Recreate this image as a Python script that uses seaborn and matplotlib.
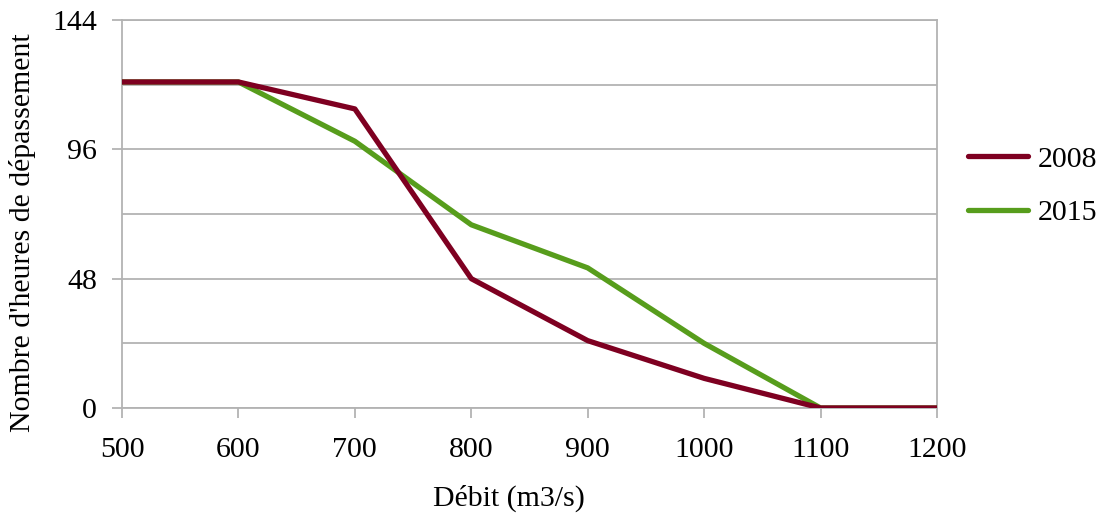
import matplotlib
matplotlib.use("Agg")
import matplotlib.pyplot as plt
import seaborn as sns
import pandas as pd

debit = [500, 600, 700, 800, 900, 1000, 1100, 1200]
heures_2008 = [121, 121, 111, 48, 25, 11, 0, 0]
heures_2015 = [121, 121, 99, 68, 52, 24, 0, 0]
series = ["2008", "2015"]
colors = ["#7e0021", "#579d1c"]

df = pd.concat([
    pd.DataFrame({"debit": debit, "heures": heures_2008, "annee": series[0]}),
    pd.DataFrame({"debit": debit, "heures": heures_2015, "annee": series[1]}),
])

sns.set_theme(style="white")
plt.rcParams["font.family"] = ["Liberation Serif", "DejaVu Serif"]
plt.rcParams["text.color"] = "black"
plt.rcParams["axes.labelcolor"] = "black"

FS = 21.5
fig = plt.figure(figsize=(11.02, 5.13), dpi=100)
ax = fig.add_axes([122/1102, 1-408/513, (937-122)/1102, (408-20)/513])

for name, col, z in [("2015", colors[1], 3), ("2008", colors[0], 4)]:
    sns.lineplot(data=df[df["annee"] == name], x="debit", y="heures", color=col,
                 linewidth=3.8, ax=ax, zorder=z, legend=False)

ax.set_xlim(500, 1200)
ax.set_ylim(0, 144)
ax.set_xticks(debit)
ax.set_xticklabels([str(d) for d in debit])
ax.set_yticks([0, 48, 96, 144])
ax.set_yticks([24, 72, 120], minor=True)
ax.grid(True, which="both", axis="y", color="#b3b3b3", linewidth=1.3)
ax.grid(False, axis="x")
for s in ax.spines.values():
    s.set_color("#b3b3b3")
    s.set_linewidth(1.3)
ax.tick_params(axis="both", which="major", labelsize=FS, colors="#b3b3b3",
               labelcolor="black", length=7, width=1.3, direction="out",
               bottom=True, left=True)
ax.tick_params(axis="y", which="minor", length=0)
ax.tick_params(axis="x", pad=14)
ax.tick_params(axis="y", pad=11)

ax.set_xlabel("Débit (m3/s)", fontsize=FS, va="center", ha="center")
ax.set_ylabel("Nombre d'heures de dépassement", fontsize=FS, va="center", ha="center")
ax.xaxis.set_label_coords((509-122)/815, -(498-408)/388)
ax.yaxis.set_label_coords(-(122-23)/815, (408-232.5)/388)

from matplotlib.lines import Line2D
handles = [Line2D([0], [0], color=colors[0], lw=3.8),
           Line2D([0], [0], color=colors[1], lw=3.8)]
leg = fig.legend(handles, series, loc="center left", bbox_to_anchor=(968/1102, 1-186/513),
                 frameon=False, fontsize=FS, handlelength=2.0, labelspacing=0.9,
                 handletextpad=0.35, borderpad=0, borderaxespad=0)

fig.savefig("out.png", dpi=100)
